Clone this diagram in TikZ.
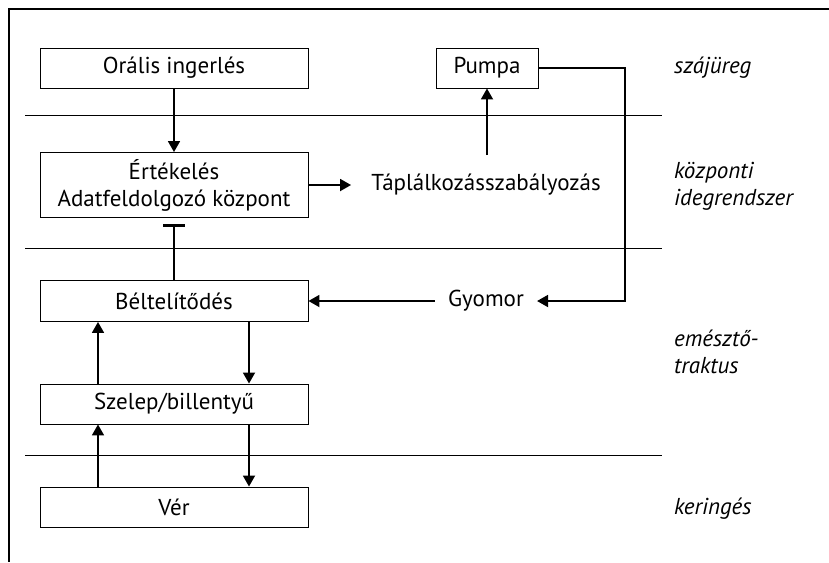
\documentclass[tikz,border=0pt]{standalone}
\usepackage{fontspec}
\setmainfont{PT Sans}
\usepackage{tikz}
\usetikzlibrary{arrows.meta}

\begin{document}
\begin{tikzpicture}[x=1pt, y=-1pt,
    box/.style={draw, line width=0.9pt, minimum width=268pt, minimum height=40pt, inner sep=0pt, align=center},
    lbl/.style={inner sep=3pt},
    zone/.style={anchor=west, align=left, font=\fontsize{23}{27}\selectfont\itshape, inner sep=0pt},
    arr/.style={line width=1.8pt, -{Triangle[length=11pt, width=12pt]}},
    sep/.style={line width=0.9pt},
    every node/.style={font=\fontsize{23}{27}\selectfont}]
    \useasboundingbox (0,0) rectangle (829,562);
    % frame
    \draw[line width=1.4pt] (829,9) -- (9,9) -- (9,562);
    % separators
    \draw[sep] (25,115) -- (662,115);
    \draw[sep] (25,248) -- (662,248);
    \draw[sep] (25,455) -- (662,455);
    % boxes
    \node[box] (oral) at (174,68) {Orális ingerlés};
    \node[box, minimum height=65pt] (ertek) at (174,185) {Értékelés\\Adatfeldolgozó központ};
    \node[box, minimum height=41pt] (bel) at (174,301) {Béltelítődés};
    \node[box] (szelep) at (174,404) {Szelep/billentyű};
    \node[box] (ver) at (174,507) {Vér};
    \node[box, minimum width=102pt] (pumpa) at (487,68) {Pumpa};
    \node[lbl, inner xsep=20pt] (tapl) at (486,185) {Táplálkozásszabályozás};
    \node[lbl, inner xsep=13pt] (gyomor) at (486,301) {Gyomor};
    \coordinate (turn) at (625,68);
    % zones
    \node[zone] (z1) at (674,68) {szájüreg};
    \node[zone] (z2) at (674,186) {központi\\idegrendszer};
    \node[zone] (z3) at (674,352) {emésztő-\\traktus};
    \node[zone] (z4) at (674,509) {keringés};
    % connectors
    \draw[arr] (oral) -- (ertek);
    \draw[arr] (ertek) -- (tapl);
    \draw[arr, shorten <=16pt] (tapl.north -| pumpa) -- (pumpa);
    \draw[arr] (pumpa.east) -- (turn) |- (gyomor.east);
    \draw[arr] (gyomor) -- (bel);
    \draw[line width=1.8pt, -{Bar[width=22pt, line width=3pt]}, shorten >=6pt] (bel) -- (ertek);
    \draw[arr] ([xshift=75pt]bel.south) -- ([xshift=75pt]szelep.north);
    \draw[arr] ([xshift=-76pt]szelep.north) -- ([xshift=-76pt]bel.south);
    \draw[arr] ([xshift=75pt]szelep.south) -- ([xshift=75pt]ver.north);
    \draw[arr] ([xshift=-76pt]ver.north) -- ([xshift=-76pt]szelep.south);
\end{tikzpicture}
\end{document}
